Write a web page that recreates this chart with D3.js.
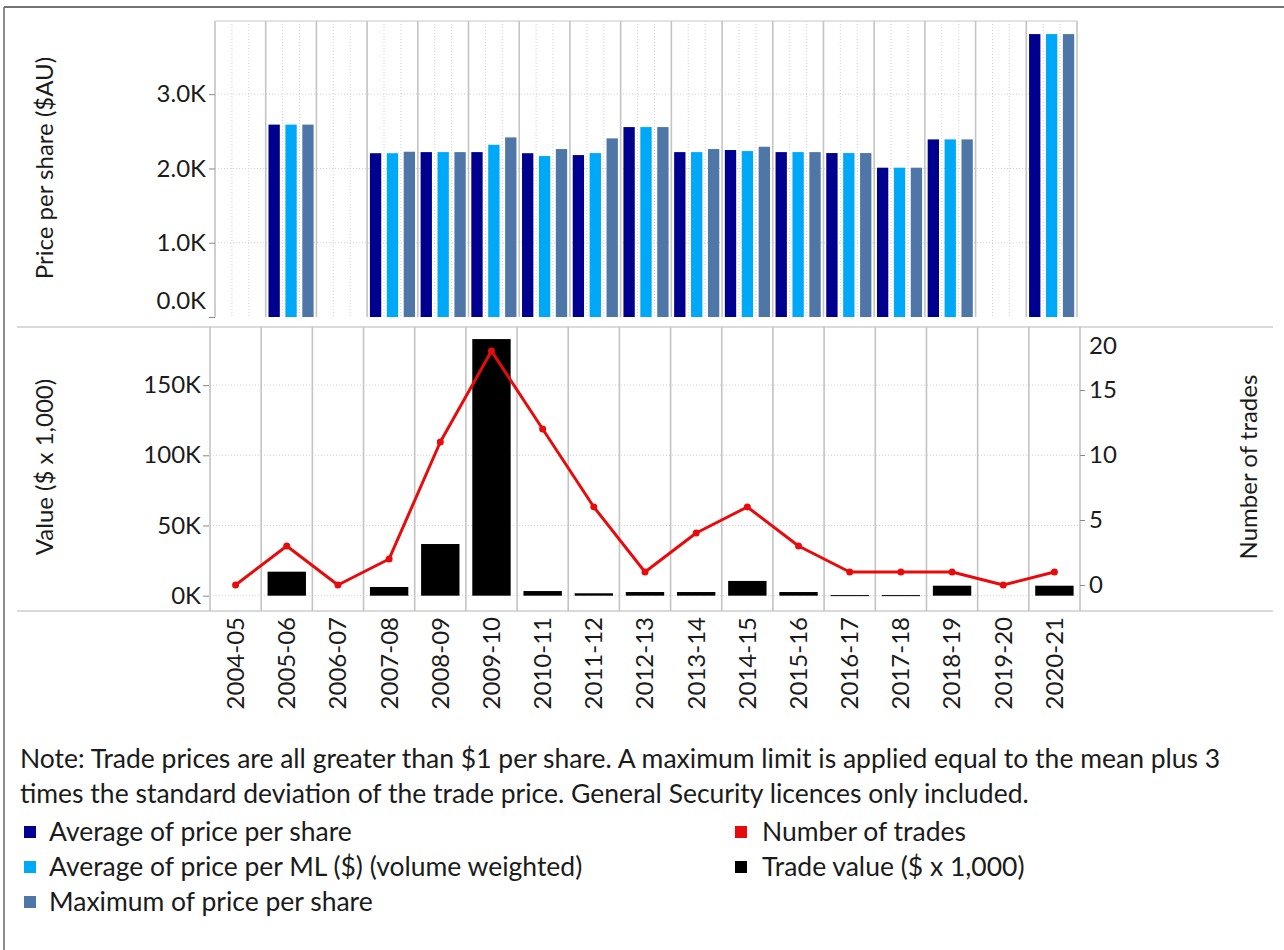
<!DOCTYPE html>
<html><head><meta charset="utf-8">
<script src="https://cdn.jsdelivr.net/npm/d3@7"></script>
<style>
body{margin:0;background:#fff}
svg{display:block}
text{font-family:Lato,"Open Sans",sans-serif;fill:#1b1b1b}
</style>
</head><body>
<svg id="c" width="1284" height="950"></svg>
<script>
// ---------------- DATA ----------------
const categories = ["2004-05","2005-06","2006-07","2007-08","2008-09","2009-10","2010-11","2011-12","2012-13","2013-14","2014-15","2015-16","2016-17","2017-18","2018-19","2019-20","2020-21"];
const avgPricePerShare = [null,2590,null,2205,2220,2220,2205,2180,2557,2220,2248,2220,2207,2010,2391,null,3809];
const avgPricePerML    = [null,2590,null,2205,2220,2319,2167,2207,2557,2220,2234,2220,2207,2010,2391,null,3809];
const maxPricePerShare = [null,2590,null,2225,2220,2418,2261,2405,2557,2261,2292,2220,2207,2010,2391,null,3809];
const tradeValue = [null,17100,null,6200,36800,182800,3300,1700,2600,2600,10500,2600,400,400,7100,null,7100];
const numberOfTrades = [0,3,0,2,11,18,12,6,1,4,6,3,1,1,1,0,1];
const priceTicks = [0,1000,2000,3000];
const valueTicks = [0,50000,100000,150000];
const tradeTicks = [0,5,10,15,20];
const priceSeries = ["Average of price per share","Average of price per ML ($) (volume weighted)","Maximum of price per share"];
const priceColors = ["#00008f","#00a9f7","#4e77a7"];
const tradeColor = "#e80b0b";
const valueColor = "#000000";
const noteLines = ["Note: Trade prices are all greater than $1 per share. A maximum limit is applied equal to the mean plus 3",
                   "times the standard deviation of the trade price. General Security licences only included."];

// ---------------- SETUP ----------------
const svg = d3.select("#c");
const FS = 24, FS2 = 26.5;
const gridCol = "#d0d0d0", divCol = "#c4c4c4", sepCol = "#dadada";

// outer frame
svg.append("line").attr("x1",4).attr("x2",1284).attr("y1",7).attr("y2",7).attr("stroke","#444").attr("stroke-width",1.5);
svg.append("line").attr("x1",4).attr("x2",4).attr("y1",7).attr("y2",950).attr("stroke","#666").attr("stroke-width",1.5);

// ---------------- TOP PANEL ----------------
const xTop = d3.scaleBand().domain(categories).range([215,1077]).padding(0);
const xSub = d3.scaleBand().domain([0,1,2]).range([0,xTop.bandwidth()]).paddingInner(0.33).paddingOuter(0.165);
const yTop = d3.scaleLinear().domain([0,3985]).range([317,21]);
const topG = svg.append("g");

// dotted grid
topG.selectAll(".hg").data(priceTicks.filter(d=>d>0)).join("line")
  .attr("x1",215).attr("x2",1077).attr("y1",d=>yTop(d)).attr("y2",d=>yTop(d))
  .attr("stroke",gridCol).attr("stroke-dasharray","1,2");
const subLines = [];
categories.forEach(c=>{ [1,2].forEach(k=>subLines.push(xTop(c)+k*xTop.bandwidth()/3)); });
topG.selectAll(".vg").data(subLines).join("line")
  .attr("x1",d=>d).attr("x2",d=>d).attr("y1",21).attr("y2",317)
  .attr("stroke",gridCol).attr("stroke-dasharray","1,2");
// border
topG.append("line").attr("x1",215).attr("x2",1077).attr("y1",21).attr("y2",21).attr("stroke",sepCol).attr("stroke-width",1.5);
topG.selectAll(".div").data(categories.map(c=>xTop(c)).concat([xTop.range()[1]])).join("line")
  .attr("x1",d=>d).attr("x2",d=>d).attr("y1",21).attr("y2",317)
  .attr("stroke",divCol).attr("stroke-width",1.6);

// bars
const priceData = [avgPricePerShare,avgPricePerML,maxPricePerShare];
priceData.forEach((arr,k)=>{
  topG.append("g").selectAll("rect").data(categories.map((c,i)=>({c,v:arr[i]})).filter(d=>d.v!=null)).join("rect")
    .attr("x",d=>xTop(d.c)+xSub(k)).attr("width",xSub.bandwidth())
    .attr("y",d=>yTop(d.v)).attr("height",d=>yTop(0)-yTop(d.v))
    .attr("fill",priceColors[k]);
});

// axis
const axTop = topG.append("g").attr("transform","translate(215,0)")
  .call(d3.axisLeft(yTop).tickValues(priceTicks).tickFormat(d=>(d/1000).toFixed(1)+"K").tickSize(6).tickPadding(3));
axTop.select(".domain").remove();
axTop.selectAll("line").attr("stroke","#888");
axTop.selectAll("text").attr("font-size",FS).attr("fill","#1b1b1b");
axTop.attr("font-family",null).attr("font-size",null);
axTop.selectAll(".tick").filter(d=>d===0).select("text").attr("dy","-0.35em");

svg.append("text").attr("transform","translate(53,168) rotate(-90)").attr("text-anchor","middle")
  .attr("font-size",FS).text("Price per share ($AU)");

// separators
[327,611].forEach(y=>svg.append("line").attr("x1",17).attr("x2",1273).attr("y1",y).attr("y2",y).attr("stroke",sepCol).attr("stroke-width",2));

// ---------------- BOTTOM PANEL ----------------
const xBot = d3.scaleBand().domain(categories).range([210,1080]).padding(0);
const yVal = d3.scaleLinear().domain([-10700,191400]).range([610.7,327]);
const yTr = d3.scaleLinear().domain([-1.98,19.85]).range([610.7,327]);
const botG = svg.append("g");
botG.selectAll(".hg").data(valueTicks).join("line")
  .attr("x1",210).attr("x2",1080).attr("y1",d=>yVal(d)).attr("y2",d=>yVal(d))
  .attr("stroke",gridCol).attr("stroke-dasharray","1,2");
botG.selectAll(".div").data(categories.map(c=>xBot(c)).concat([xBot.range()[1]])).join("line")
  .attr("x1",d=>d).attr("x2",d=>d).attr("y1",327).attr("y2",611)
  .attr("stroke",divCol).attr("stroke-width",1.6);

const bw = xBot.bandwidth();
botG.append("g").selectAll("rect").data(categories.map((c,i)=>({c,v:tradeValue[i]})).filter(d=>d.v!=null)).join("rect")
  .attr("x",d=>xBot(d.c)+bw*0.125).attr("width",bw*0.75)
  .attr("y",d=>yVal(d.v)).attr("height",d=>Math.max(1,yVal(0)-yVal(d.v)))
  .attr("fill",valueColor);

const pts = categories.map((c,i)=>({c,v:numberOfTrades[i]}));
botG.append("path").datum(pts)
  .attr("d",d3.line().x(d=>xBot(d.c)+bw/2).y(d=>yTr(d.v)))
  .attr("fill","none").attr("stroke",tradeColor).attr("stroke-width",3).attr("stroke-linejoin","round");
botG.append("g").selectAll("circle").data(pts).join("circle")
  .attr("cx",d=>xBot(d.c)+bw/2).attr("cy",d=>yTr(d.v)).attr("r",3.5).attr("fill",tradeColor);

const axVal = botG.append("g").attr("transform","translate(209,0)")
  .call(d3.axisLeft(yVal).tickValues(valueTicks).tickFormat(d=>(d/1000)+"K").tickSize(6).tickPadding(2));
axVal.select(".domain").remove();
axVal.selectAll("line").attr("stroke","#888");
axVal.selectAll("text").attr("font-size",FS).attr("fill","#1b1b1b");
axVal.attr("font-family",null).attr("font-size",null);

const axTr = botG.append("g").attr("transform","translate(1080,0)")
  .call(d3.axisRight(yTr).tickValues(tradeTicks).tickSize(5).tickPadding(4));
axTr.select(".domain").remove();
axTr.selectAll("line").attr("stroke","#888");
axTr.selectAll("text").attr("font-size",FS).attr("fill","#1b1b1b");
axTr.attr("font-family",null).attr("font-size",null);
const t20 = axTr.selectAll(".tick").filter(d=>d===20);
t20.select("line").remove();
t20.select("text").attr("dy","1.2em");

svg.append("text").attr("transform","translate(53,467) rotate(-90)").attr("text-anchor","middle")
  .attr("font-size",FS).text("Value ($ x 1,000)");
svg.append("text").attr("transform","translate(1257,467) rotate(-90)").attr("text-anchor","middle")
  .attr("font-size",FS).text("Number of trades");

// x labels
svg.append("g").selectAll("text").data(categories).join("text")
  .attr("transform",c=>`translate(${xBot(c)+bw/2},617) rotate(-90)`)
  .attr("text-anchor","end").attr("dy","0.35em").attr("font-size",FS).text(c=>c);

// ---------------- NOTE & LEGEND ----------------
svg.append("g").selectAll("text").data(noteLines).join("text")
  .attr("x",20).attr("y",(d,i)=>768+i*35).attr("font-size",FS2).text(d=>d);

const legL = svg.append("g");
priceSeries.forEach((s,i)=>{
  legL.append("rect").attr("x",24).attr("y",826+i*35).attr("width",12).attr("height",12).attr("fill",priceColors[i]);
  legL.append("text").attr("x",49).attr("y",841+i*35).attr("font-size",FS2).text(s);
});
const rightLeg = [["Number of trades",tradeColor],["Trade value ($ x 1,000)",valueColor]];
rightLeg.forEach((d,i)=>{
  legL.append("rect").attr("x",735).attr("y",826+i*35).attr("width",12).attr("height",12).attr("fill",d[1]);
  legL.append("text").attr("x",762).attr("y",841+i*35).attr("font-size",FS2).text(d[0]);
});
</script>
</body></html>
